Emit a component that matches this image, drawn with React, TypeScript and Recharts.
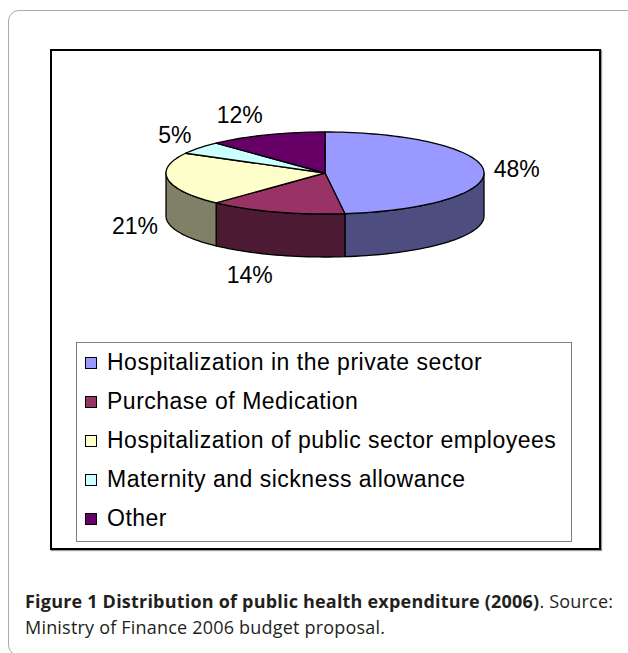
import React from "react";
import { PieChart, Pie, Legend } from "recharts";

// shares of public health expenditure, 2006 (%)
const categories = [
  "Hospitalization in the private sector",
  "Purchase of Medication",
  "Hospitalization of public sector employees",
  "Maternity and sickness allowance",
  "Other",
];
const shares = [48, 14, 21, 5, 12];
const topColors = ["#9999FF", "#993366", "#FFFFCC", "#CCFFFF", "#660066"];
const sideColors = ["#4D4D80", "#4D1A33", "#808066", "#668080", "#330033"];

const data = categories.map((name, i) => ({
  name,
  value: shares[i],
  fill: topColors[i],
  side: sideColors[i],
}));

const TILT = 41 / 159; // vertical squash of the top ellipse
const DEPTH = 43; // thickness of the pie
const RAD = Math.PI / 180;
const LABEL_FONT = "'Liberation Sans', Arial, sans-serif";

function rim(cx: number, cy: number, rx: number, ry: number, a: number) {
  return [cx + rx * Math.cos(a * RAD), cy - ry * Math.sin(a * RAD)];
}

// 3D-looking elliptical sector: top face plus the visible front wall
function Slice3D(props: any) {
  const { cx, cy, outerRadius, startAngle, endAngle } = props;
  const fill = props.fill ?? props.payload?.fill;
  const side = props.side ?? props.payload?.side ?? "#666";
  const rx = outerRadius;
  const ry = outerRadius * TILT;
  const lo = Math.min(startAngle, endAngle);
  const hi = Math.max(startAngle, endAngle);

  const steps = Math.max(8, Math.ceil((hi - lo) / 2));
  const top: string[] = [`${cx},${cy}`];
  for (let s = 0; s <= steps; s++) {
    const a = hi - ((hi - lo) * s) / steps;
    const [x, y] = rim(cx, cy, rx, ry, a);
    top.push(`${x},${y}`);
  }

  // front half of the rim is angles in (-180, 0) (mod 360)
  const walls: React.ReactNode[] = [];
  [-360, 0, 360].forEach((k) => {
    const a1 = Math.max(lo, -180 + k);
    const a2 = Math.min(hi, k);
    if (a2 - a1 <= 0.01) return;
    const n = Math.max(4, Math.ceil((a2 - a1) / 2));
    const upper: string[] = [];
    const lower: string[] = [];
    for (let s = 0; s <= n; s++) {
      const a = a1 + ((a2 - a1) * s) / n;
      const [x, y] = rim(cx, cy, rx, ry, a);
      upper.push(`${x},${y}`);
      lower.unshift(`${x},${y + DEPTH}`);
    }
    walls.push(
      <polygon
        key={k}
        points={[...upper, ...lower].join(" ")}
        fill={side}
        stroke="#000"
        strokeWidth={1.3}
        strokeLinejoin="round"
      />
    );
  });

  return (
    <g>
      {walls}
      <polygon points={top.join(" ")} fill={fill} stroke="#000" strokeWidth={1.3} strokeLinejoin="round" />
    </g>
  );
}

function renderLabel(p: any) {
  const cos = Math.cos(p.midAngle * RAD);
  const sin = Math.sin(p.midAngle * RAD);
  const rx = p.outerRadius;
  const ry = rx * TILT;
  const x = p.cx + (rx + 10) * cos;
  const y = p.cy - (ry + 10) * sin + (sin < 0 ? DEPTH : 0) - 11 * sin;
  return (
    <text
      x={x}
      y={y}
      textAnchor={cos >= 0 ? "start" : "end"}
      dominantBaseline="central"
      fontSize={23}
      fontFamily={LABEL_FONT}
      fill="#000"
    >
      {`${Math.round(p.percent * 100)}%`}
    </text>
  );
}

function LegendBox(props: any) {
  const items = [...(props.payload ?? [])].sort(
    (a: any, b: any) => categories.indexOf(a.value) - categories.indexOf(b.value)
  );
  return (
    <div
      style={{
        width: 496,
        height: 200,
        boxSizing: "border-box",
        border: "1.5px solid #808080",
        paddingTop: 0,
        fontFamily: LABEL_FONT,
        fontSize: 23,
        letterSpacing: 0.5,
        color: "#000",
      }}
    >
      {items.map((it: any) => {
        const row = data.find((d) => d.name === it.value);
        return (
          <div key={it.value} style={{ display: "flex", alignItems: "center", height: 39, paddingLeft: 8 }}>
            <span
              style={{
                display: "inline-block",
                width: 10,
                height: 10,
                border: "1px solid #000",
                background: row ? row.fill : it.color,
                marginRight: 10,
                flex: "none",
              }}
            />
            <span style={{ whiteSpace: "nowrap" }}>{it.value}</span>
          </div>
        );
      })}
    </div>
  );
}

export default function App() {
  return (
    <div
      style={{
        position: "absolute",
        left: 0,
        top: 0,
        width: 628,
        height: 653,
        overflow: "hidden",
        background: "#fff",
      }}
    >
      <div
        style={{
          position: "absolute",
          left: 8,
          top: 10,
          width: 660,
          height: 644,
          border: "1px solid #aaa",
          borderRadius: 11,
        }}
      />
      <div style={{ position: "absolute", left: 50, top: 49, width: 551, height: 501 }}>
        <PieChart width={551} height={501} margin={{ top: 0, right: 0, bottom: 0, left: 0 }}>
          <Pie
            data={data}
            dataKey="value"
            nameKey="name"
            cx={275}
            cy={124}
            outerRadius={159}
            startAngle={90}
            endAngle={-270}
            isAnimationActive={false}
            label={renderLabel}
            labelLine={false}
            activeShape={Slice3D}
            inactiveShape={Slice3D}
            shape={Slice3D}
          />
          <Legend
            content={<LegendBox />}
            width={496}
            height={200}
            wrapperStyle={{ left: 26, top: 293, width: 496, height: 200, bottom: "auto" }}
          />
        </PieChart>
        <div
          style={{
            position: "absolute",
            left: 0,
            top: 0,
            width: 551,
            height: 501,
            boxSizing: "border-box",
            border: "2px solid #000",
            boxShadow: "1px 1px 1px #999",
            pointerEvents: "none",
          }}
        />
      </div>
      <div
        style={{
          position: "absolute",
          left: 25,
          top: 588,
          width: 610,
          fontFamily: "'Open Sans', 'Noto Sans', sans-serif",
          fontSize: 18,
          lineHeight: "26px",
          color: "#231f20",
          letterSpacing: 0.2,
          whiteSpace: "nowrap",
        }}
      >
        <b>Figure 1 Distribution of public health expenditure (2006)</b>. Source:
        <br />
        Ministry of Finance 2006 budget proposal.
      </div>
    </div>
  );
}
